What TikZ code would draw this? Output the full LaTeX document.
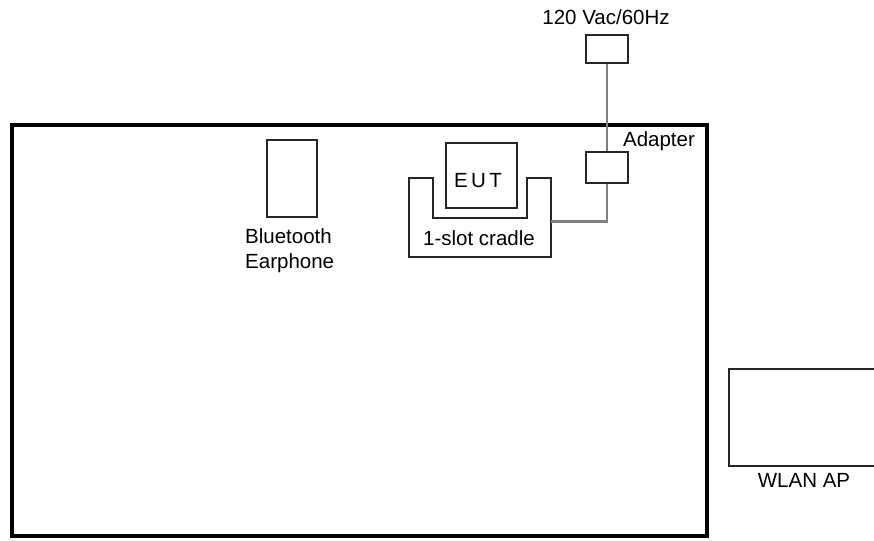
\documentclass[tikz,border=0pt]{standalone}
\usepackage{fontspec}
\setmainfont{Liberation Sans}
\usepackage{tikz}
\usetikzlibrary{positioning,calc}

\begin{document}
\begin{tikzpicture}[
				x=1pt, y=-1pt,
				devbox/.style={
					rectangle, draw=black!85, line width=2pt,
					inner sep=0pt
				},
				lbl/.style={
					font=\fontsize{20.5}{25}\selectfont, inner sep=0pt, anchor=base
				},
				cable/.style={draw=black!50, line width=2.5pt},
				room/.style={draw=black, line width=4pt}
				]
				
				\clip (0,0) rectangle (874,540);
				
				% test room
				\draw[room] (11.5,125) rectangle (706.5,535.5);
				
				% mains socket
				\node[devbox, minimum width=42.6, minimum height=28.3] (socket) at (607,49) {};
				\node[lbl] (mains) at (606,25) {120 Vac/60Hz};
				
				% adapter
				\node[devbox, minimum width=42.6, minimum height=30.4] (adapter) at (607,167.5) {};
				\node[lbl] (adapterlbl) at (659,147) {Adapter};
				
				% bluetooth earphone
				\node[devbox, minimum width=50, minimum height=76.5] (earphone) at (292,178.3) {};
				\node[lbl, anchor=north west, align=left] (earphonelbl) at (245,228) {Bluetooth\\Earphone};
				
				% cradle
				\coordinate (cradleR) at (551,221.7);
				\draw[devbox] (409.3,177.7) -- (409.3,256.7) -- (550.7,256.7) -- (550.7,177.7)
					-- (526.7,177.7) -- (526.7,218.3) -- (432.7,218.3) -- (432.7,177.7) -- cycle;
				\node[lbl] (cradlelbl) at (479,245) {1-slot cradle};
				
				% EUT
				\node[devbox, minimum width=71.6, minimum height=65.6] (eut) at (481.5,175.5) {};
				\node[lbl] (eutlbl) at (478,187) {E\,U\,T};
				
				% WLAN AP
				\node[devbox, minimum width=170, minimum height=97, anchor=north west] (ap) at (728,368) {};
				\node[lbl] (aplbl) at (804,487) {WLAN AP};
				
				% cables
				\draw[cable] (socket.south) -- (adapter.north);
				\draw[cable] (adapter.south) |- (cradleR);
			\end{tikzpicture}
\end{document}
